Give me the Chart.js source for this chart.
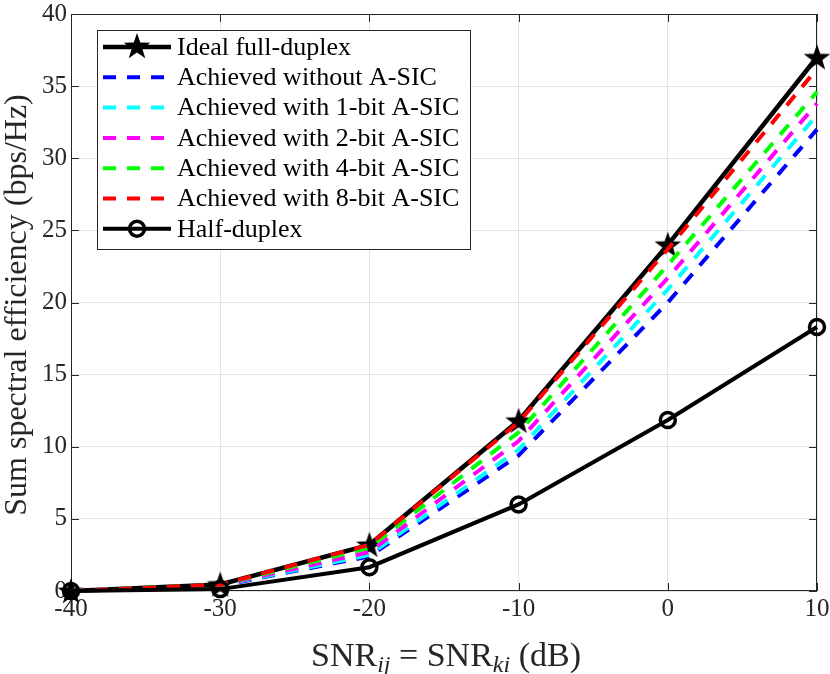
<!DOCTYPE html>
<html>
<head>
<meta charset="utf-8">
<script src="https://cdn.jsdelivr.net/npm/chart.js@4.4.1/dist/chart.umd.min.js"></script>
<style>
  html, body { margin: 0; padding: 0; background: #fff; }
  #wrap { width: 830px; height: 674px; }
</style>
</head>
<body>
<div id="wrap"><canvas id="chart" width="830" height="674"></canvas></div>
<script>
const snr = [-40, -30, -20, -10, 0, 10];
const xTicks = [-40, -30, -20, -10, 0, 10];
const yTicks = [0, 5, 10, 15, 20, 25, 30, 35, 40];

const idealFD   = [0, 0.45, 3.2, 11.8, 24.0, 37.0];
const noASIC    = [0, 0.36, 2.4, 9.4, 20.0, 32.0];
const asic1bit  = [0, 0.38, 2.5, 9.8, 20.9, 33.0];
const asic2bit  = [0, 0.40, 2.7, 10.4, 21.7, 33.8];
const asic4bit  = [0, 0.42, 3.0, 11.0, 22.6, 34.6];
const asic8bit  = [0, 0.44, 3.2, 11.7, 23.7, 36.2];
const halfDuplex = [0, 0.13, 1.65, 6.0, 11.85, 18.3];

const SERIF = '"Liberation Serif", "DejaVu Serif", serif';

function pts(vals) {
  return snr.map((x, i) => ({ x: x, y: vals[i] }));
}

// filled five-point star used as marker
function makeStar(size) {
  const c = document.createElement('canvas');
  c.width = size; c.height = size;
  const g = c.getContext('2d');
  const cx = size / 2, cy = size / 2 + 1, R = size / 2, r = R * 0.4;
  g.beginPath();
  for (let i = 0; i < 10; i++) {
    const a = -Math.PI / 2 + i * Math.PI / 5;
    const rad = i % 2 === 0 ? R : r;
    g.lineTo(cx + rad * Math.cos(a), cy + rad * Math.sin(a));
  }
  g.closePath();
  g.fillStyle = '#000';
  g.fill();
  return c;
}
const star = makeStar(28);

function dashed(label, vals, color, order) {
  return {
    label, data: pts(vals), borderColor: color, backgroundColor: color,
    borderWidth: 4, borderDash: [13, 11], pointRadius: 0, order, tension: 0, clip: false,
  };
}

const datasets = [
  { label: 'Ideal full-duplex', data: pts(idealFD), borderColor: '#000', backgroundColor: '#000',
    borderWidth: 4.5, pointStyle: star, pointRadius: 14, order: 10, tension: 0, clip: false },
  dashed('Achieved without A-SIC', noASIC, '#0000ff', 6),
  dashed('Achieved with 1-bit A-SIC', asic1bit, '#00ffff', 5),
  dashed('Achieved with 2-bit A-SIC', asic2bit, '#ff00ff', 4),
  dashed('Achieved with 4-bit A-SIC', asic4bit, '#00ff00', 3),
  dashed('Achieved with 8-bit A-SIC', asic8bit, '#ff0000', 2),
  { label: 'Half-duplex', data: pts(halfDuplex), borderColor: '#000', backgroundColor: 'rgba(0,0,0,0)',
    borderWidth: 4, pointStyle: 'circle', pointRadius: 7.5, pointBorderWidth: 3.5, order: 1, tension: 0, clip: false },
];

// box, inward ticks, tick labels, legend, axis titles (x title with subscripts)
const matlabDecor = {
  id: 'matlabDecor',
  beforeDatasetsDraw(chart) {
    const ctx = chart.ctx;
    const a = chart.chartArea;
    const xs = chart.scales.x, ys = chart.scales.y;
    ctx.save();
    ctx.strokeStyle = '#262626';
    ctx.lineWidth = 1;
    ctx.strokeRect(a.left + 0.5, a.top + 0.5, a.right - a.left - 1, a.bottom - a.top - 1);
    ctx.beginPath();
    xTicks.forEach(v => {
      const px = Math.round(xs.getPixelForValue(v)) + 0.5;
      ctx.moveTo(px, a.bottom); ctx.lineTo(px, a.bottom - 8);
      ctx.moveTo(px, a.top); ctx.lineTo(px, a.top + 8);
    });
    yTicks.forEach(v => {
      const py = Math.round(ys.getPixelForValue(v)) + 0.5;
      ctx.moveTo(a.left, py); ctx.lineTo(a.left + 8, py);
      ctx.moveTo(a.right, py); ctx.lineTo(a.right - 8, py);
    });
    ctx.stroke();

    // tick labels
    ctx.fillStyle = '#262626';
    ctx.font = '25px ' + SERIF;
    ctx.textAlign = 'center';
    ctx.textBaseline = 'middle';
    xTicks.forEach(v => ctx.fillText(String(v), xs.getPixelForValue(v), a.bottom + 18));
    ctx.textAlign = 'right';
    yTicks.forEach(v => ctx.fillText(String(v), a.left - 4, ys.getPixelForValue(v)));
    ctx.restore();
  },
  afterDraw(chart) {
    const ctx = chart.ctx;
    ctx.save();

    // legend
    const lx = 97, ly = 30, lw = 373, lh = 219, row = 30.3;
    ctx.fillStyle = '#fff';
    ctx.fillRect(lx, ly, lw, lh);
    ctx.strokeStyle = '#262626';
    ctx.lineWidth = 1;
    ctx.strokeRect(lx + 0.5, ly + 0.5, lw, lh);
    ctx.font = '26px ' + SERIF;
    ctx.textAlign = 'left';
    ctx.textBaseline = 'middle';
    chart.data.datasets.forEach((ds, i) => {
      const y = ly + 17 + i * row;
      const x0 = lx + 6, x1 = lx + 74;
      ctx.strokeStyle = ds.borderColor;
      ctx.lineWidth = ds.borderWidth;
      ctx.setLineDash(ds.borderDash || []);
      ctx.beginPath(); ctx.moveTo(x0, y); ctx.lineTo(x1, y); ctx.stroke();
      ctx.setLineDash([]);
      if (ds.pointStyle === star) {
        ctx.drawImage(star, (x0 + x1) / 2 - 14, y - 15, 28, 28);
      } else if (ds.pointStyle === 'circle') {
        ctx.lineWidth = 3.5;
        ctx.beginPath(); ctx.arc((x0 + x1) / 2, y, 7.5, 0, Math.PI * 2); ctx.stroke();
      }
      ctx.fillStyle = '#000';
      ctx.fillText(ds.label, x1 + 6, y + 1);
    });

    // y title
    ctx.fillStyle = '#262626';
    ctx.font = '32px ' + SERIF;
    ctx.textAlign = 'center';
    ctx.textBaseline = 'middle';
    ctx.translate(18, 305);
    ctx.rotate(-Math.PI / 2);
    ctx.fillText('Sum spectral efficiency (bps/Hz)', 0, 0);
    ctx.setTransform(1, 0, 0, 1, 0, 0);

    // x title: SNR_ij = SNR_ki (dB)
    const parts = [
      ['SNR', 34, 0, ''], ['ij', 24, 6, 'italic '], [' = SNR', 34, 0, ''],
      ['ki', 24, 6, 'italic '], [' (dB)', 34, 0, ''],
    ];
    ctx.textAlign = 'left';
    let total = 0;
    parts.forEach(p => { ctx.font = p[3] + p[1] + 'px ' + SERIF; total += ctx.measureText(p[0]).width; });
    let x = 446 - total / 2;
    const baseY = 666;
    ctx.textBaseline = 'alphabetic';
    parts.forEach(p => {
      ctx.font = p[3] + p[1] + 'px ' + SERIF;
      ctx.fillText(p[0], x, baseY + p[2]);
      x += ctx.measureText(p[0]).width;
    });
    ctx.restore();
  }
};

new Chart(document.getElementById('chart'), {
  type: 'line',
  data: { datasets },
  options: {
    responsive: false,
    animation: false,
    layout: { autoPadding: false, padding: { top: 14, right: 13, left: 0, bottom: 0 } },
    plugins: { legend: { display: false }, tooltip: { enabled: false } },
    scales: {
      x: {
        type: 'linear', min: -40, max: 10,
        afterBuildTicks: s => { s.ticks = xTicks.map(v => ({ value: v })); },
        afterFit: s => { s.height = 83; },
        grid: { color: '#e3e3e3', lineWidth: 1, drawTicks: false },
        border: { display: false },
        ticks: { display: false },
      },
      y: {
        min: 0, max: 40,
        afterBuildTicks: s => { s.ticks = yTicks.map(v => ({ value: v })); },
        afterFit: s => { s.width = 71; },
        grid: { color: '#e3e3e3', lineWidth: 1, drawTicks: false },
        border: { display: false },
        ticks: { display: false },
      },
    },
  },
  plugins: [matlabDecor],
});
</script>
</body>
</html>
